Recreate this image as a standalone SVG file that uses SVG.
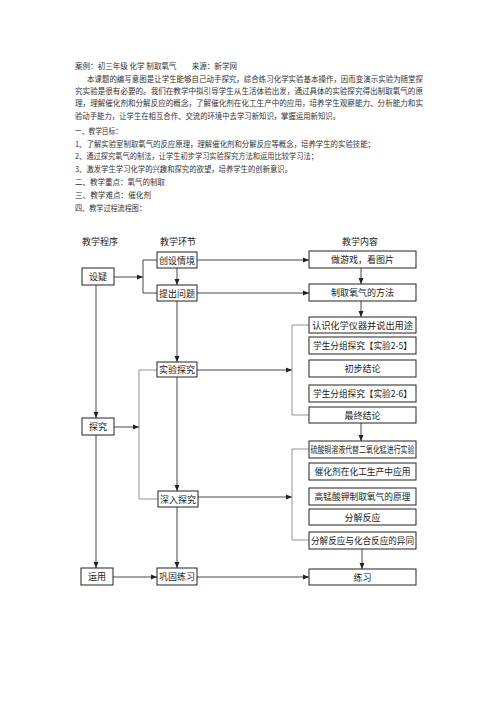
<svg xmlns="http://www.w3.org/2000/svg" width="496" height="702" viewBox="0 0 496 702">
<defs>
<style>
.t{font-family:"Noto Sans CJK SC","Liberation Serif",serif;font-size:7.8px;fill:#333}
.h{font-family:"Noto Sans CJK SC","Liberation Sans",sans-serif;font-size:9px;fill:#222;text-anchor:middle}
.b{fill:#fff;stroke:#222;stroke-width:1}
.n{font-family:"Noto Sans CJK SC","Liberation Sans",sans-serif;font-size:9px;fill:#222;text-anchor:middle;dominant-baseline:central}
.c{fill:none;stroke:#333;stroke-width:0.9}
.g{fill:none;stroke:#888;stroke-width:0.9}
</style>
<marker id="a" viewBox="0 0 6 6" refX="6" refY="3" markerWidth="6" markerHeight="6" markerUnits="userSpaceOnUse" orient="auto"><path d="M0,0.5 L6,3 L0,5.5 Z" fill="#222"/></marker>
</defs>
<rect width="496" height="702" fill="#fff"/>
<g id="intro">
<text class="t" x="75" y="69" textLength="162" lengthAdjust="spacingAndGlyphs">案例：初三年级  化学  制取氧气　　来源：新学网</text>
<text class="t" x="87" y="82" textLength="336" lengthAdjust="spacingAndGlyphs">本课题的编写意图是让学生能够自己动手探究，综合练习化学实验基本操作，因而变演示实验为随堂探</text>
<text class="t" x="75" y="94" textLength="348" lengthAdjust="spacingAndGlyphs">究实验是很有必要的。我们在教学中拟引导学生从生活体验出发，通过具体的实验探究得出制取氧气的原</text>
<text class="t" x="75" y="106" textLength="348" lengthAdjust="spacingAndGlyphs">理，理解催化剂和分解反应的概念，了解催化剂在化工生产中的应用，培养学生观察能力、分析能力和实</text>
<text class="t" x="75" y="119" textLength="265" lengthAdjust="spacingAndGlyphs">验动手能力，让学生在相互合作、交流的环境中去学习新知识，掌握运用新知识。</text>
<text class="t" x="75" y="134" textLength="47" lengthAdjust="spacingAndGlyphs">一、教学目标：</text>
<text class="t" x="75" y="147" textLength="300" lengthAdjust="spacingAndGlyphs">1、了解实验室制取氧气的反应原理，理解催化剂和分解反应等概念，培养学生的实验技能；</text>
<text class="t" x="75" y="159" textLength="243" lengthAdjust="spacingAndGlyphs">2、通过探究氧气的制法，让学生初步学习实验探究方法和运用比较学习法；</text>
<text class="t" x="75" y="172" textLength="217" lengthAdjust="spacingAndGlyphs">3、激发学生学习化学的兴趣和探究的欲望，培养学生的创新意识。</text>
<text class="t" x="75" y="185" textLength="90" lengthAdjust="spacingAndGlyphs">二、教学重点：氧气的制取</text>
<text class="t" x="75" y="198" textLength="76" lengthAdjust="spacingAndGlyphs">三、教学难点：催化剂</text>
<text class="t" x="75" y="211" textLength="71" lengthAdjust="spacingAndGlyphs">四、教学过程流程图：</text>
</g>
<g id="headers">
<text class="h" x="100" y="245">教学程序</text>
<text class="h" x="178" y="245">教学环节</text>
<text class="h" x="360" y="245">教学内容</text>
</g>
<g id="connectors">
<path class="c" d="M114,277 H143" marker-end="url(#a)"/>
<path class="c" d="M157,260 H143 V293 H157"/>
<path class="c" d="M177,268 V285" marker-end="url(#a)"/>
<path class="c" d="M177,301 V362" marker-end="url(#a)"/>
<path class="c" d="M197,260 H309" marker-end="url(#a)"/>
<path class="c" d="M197,293 H309" marker-end="url(#a)"/>
<path class="c" d="M361,268 V284" marker-end="url(#a)"/>
<path class="c" d="M361,301 V317" marker-end="url(#a)"/>
<path class="c" d="M96,285 V418" marker-end="url(#a)"/>
<path class="c" d="M197,370 H292" marker-end="url(#a)"/>
<path class="g" d="M309,325 H292 V415 H309"/>
<path class="g" d="M157,370 H139 V499 H158"/>
<path class="c" d="M114,427 H139" marker-end="url(#a)"/>
<path class="c" d="M177,377 V491" marker-end="url(#a)"/>
<path class="c" d="M361,423 V441" marker-end="url(#a)"/>
<path class="c" d="M198,497 H292" marker-end="url(#a)"/>
<path class="g" d="M309,449 H292 V540 H309"/>
<path class="c" d="M177,507 V568" marker-end="url(#a)"/>
<path class="c" d="M96,435 V568" marker-end="url(#a)"/>
<path class="c" d="M113,577 H157" marker-end="url(#a)"/>
<path class="c" d="M197,577 H309" marker-end="url(#a)"/>
<path class="c" d="M362,549 V569" marker-end="url(#a)"/>
</g>
<g id="n-shezi"><rect class="b" x="82" y="268" width="32" height="17"/><text class="n" x="98" y="276.5">设疑</text></g>
<g id="n-tanjiu"><rect class="b" x="82" y="418" width="32" height="17"/><text class="n" x="98" y="426.5">探究</text></g>
<g id="n-yunyong"><rect class="b" x="81" y="568" width="32" height="17"/><text class="n" x="97" y="576.5">运用</text></g>
<g id="n-chuangshe"><rect class="b" x="157" y="252" width="40" height="16"/><text class="n" x="177" y="260">创设情境</text></g>
<g id="n-tichu"><rect class="b" x="157" y="285" width="40" height="16"/><text class="n" x="177" y="293">提出问题</text></g>
<g id="n-shiyan"><rect class="b" x="157" y="362" width="40" height="15"/><text class="n" x="177" y="369.5">实验探究</text></g>
<g id="n-shenru"><rect class="b" x="158" y="491" width="40" height="16"/><text class="n" x="178" y="499">深入探究</text></g>
<g id="n-gonggu"><rect class="b" x="157" y="568" width="40" height="17"/><text class="n" x="177" y="576.5">巩固练习</text></g>
<g id="c1"><rect class="b" x="309" y="251" width="107" height="17"/><text class="n" x="362.5" y="259.5">做游戏，看图片</text></g>
<g id="c2"><rect class="b" x="309" y="284" width="107" height="17"/><text class="n" x="362.5" y="292.5">制取氧气的方法</text></g>
<g id="c3"><rect class="b" x="309" y="317" width="107" height="16"/><text class="n" x="362.5" y="325" textLength="101" lengthAdjust="spacingAndGlyphs">认识化学仪器并说出用途</text></g>
<g id="c4"><rect class="b" x="309" y="337" width="107" height="17"/><text class="n" x="362.5" y="345.5" textLength="99" lengthAdjust="spacingAndGlyphs">学生分组探究【实验2-5】</text></g>
<g id="c5"><rect class="b" x="309" y="360" width="107" height="17"/><text class="n" x="362.5" y="368.5">初步结论</text></g>
<g id="c6"><rect class="b" x="309" y="385" width="107" height="17"/><text class="n" x="362.5" y="393.5" textLength="99" lengthAdjust="spacingAndGlyphs">学生分组探究【实验2-6】</text></g>
<g id="c7"><rect class="b" x="309" y="407" width="107" height="16"/><text class="n" x="362.5" y="415">最终结论</text></g>
<g id="c8"><rect class="b" x="309" y="441" width="107" height="17"/><text class="n" x="362.5" y="449.5" textLength="104" lengthAdjust="spacingAndGlyphs">硫酸铜溶液代替二氧化锰进行实验</text></g>
<g id="c9"><rect class="b" x="309" y="463" width="107" height="17"/><text class="n" x="362.5" y="471.5" textLength="96" lengthAdjust="spacingAndGlyphs">催化剂在化工生产中应用</text></g>
<g id="c10"><rect class="b" x="309" y="488" width="107" height="17"/><text class="n" x="362.5" y="496.5" textLength="96" lengthAdjust="spacingAndGlyphs">高锰酸钾制取氧气的原理</text></g>
<g id="c11"><rect class="b" x="309" y="509" width="107" height="16"/><text class="n" x="362.5" y="517">分解反应</text></g>
<g id="c12"><rect class="b" x="309" y="532" width="107" height="17"/><text class="n" x="362.5" y="540.5" textLength="103" lengthAdjust="spacingAndGlyphs">分解反应与化合反应的异同</text></g>
<g id="c13"><rect class="b" x="309" y="569" width="107" height="16"/><text class="n" x="362.5" y="577">练习</text></g>
</svg>
